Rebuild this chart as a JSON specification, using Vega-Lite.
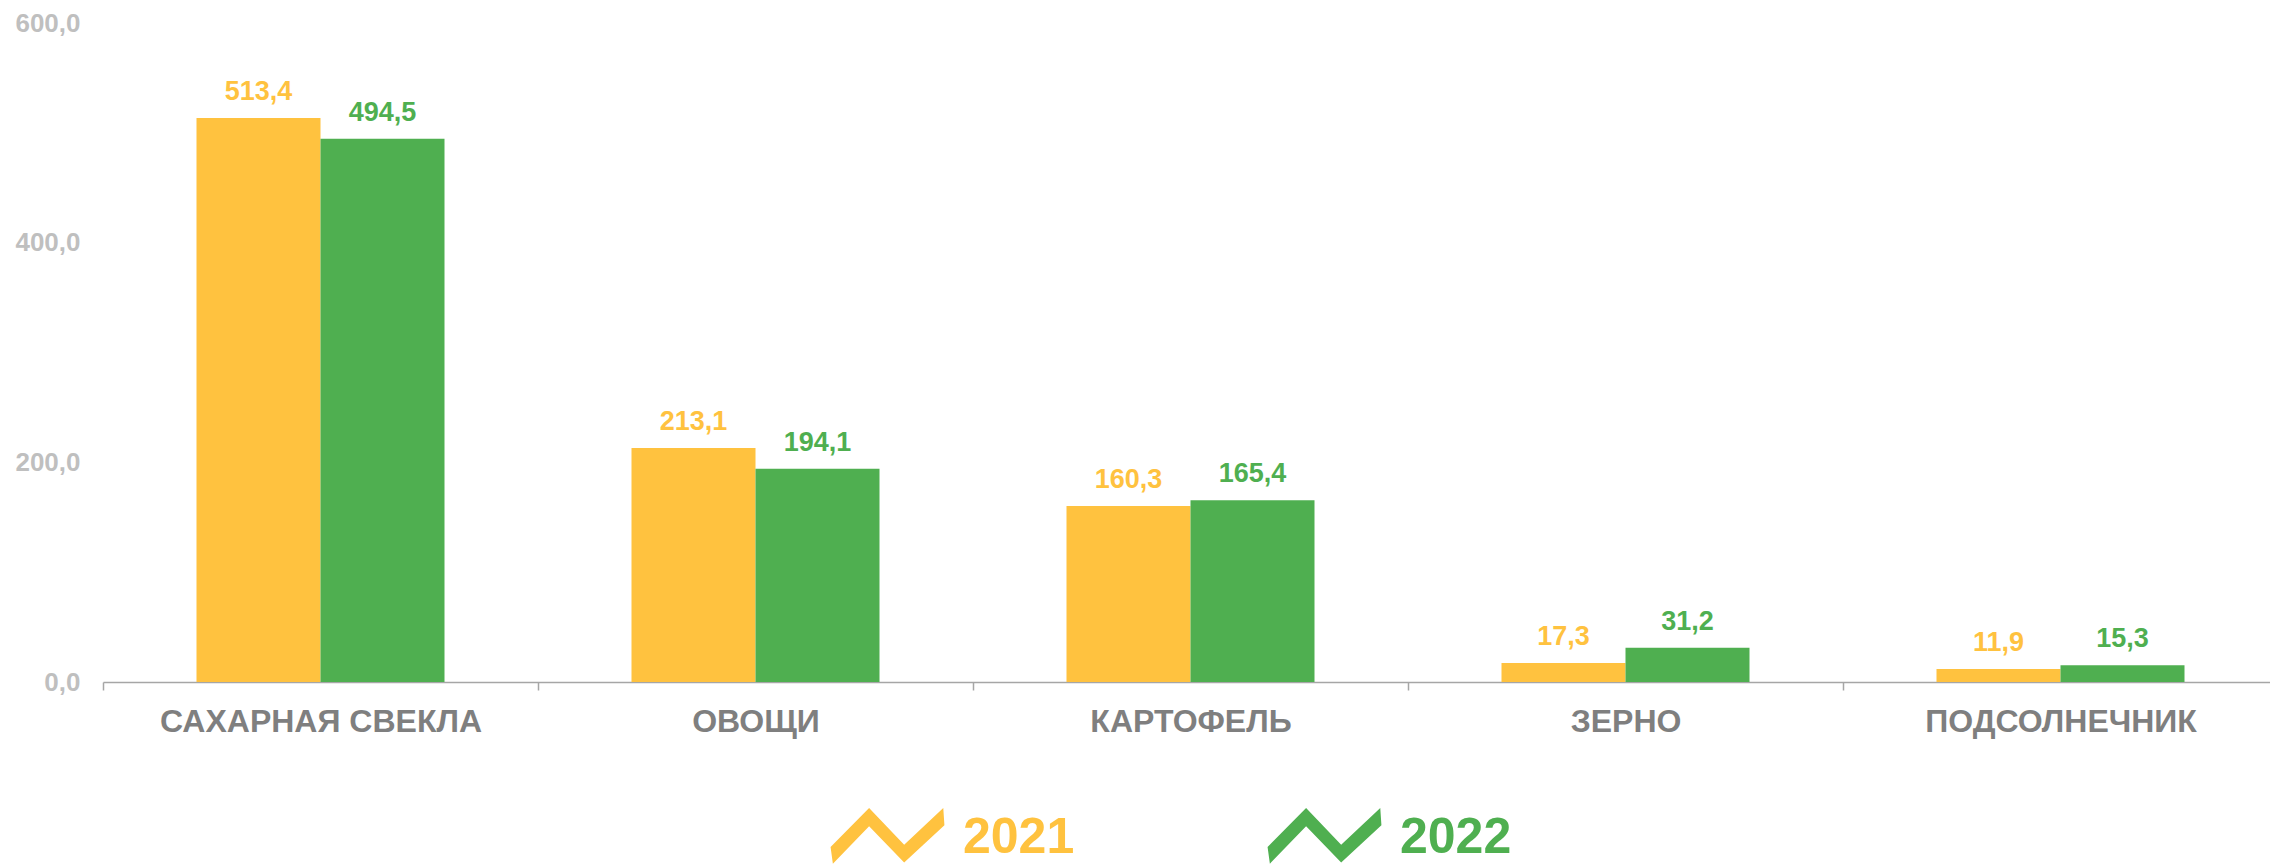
{
  "$schema": "https://vega.github.io/schema/vega-lite/v6.json",
  "width": 2175,
  "height": 659,
  "autosize": "none",
  "padding": {"left": 103, "top": 23, "right": 0, "bottom": 186},
  "background": "white",
  "config": {
    "view": {"stroke": null},
    "font": "Liberation Sans",
    "locale": {"number": {"decimal": ",", "thousands": " ", "grouping": [3], "currency": ["", ""]}}
  },
  "data": {
    "values": [
      {"crop": "САХАРНАЯ СВЕКЛА", "year": "2021", "value": 513.4},
      {"crop": "САХАРНАЯ СВЕКЛА", "year": "2022", "value": 494.5},
      {"crop": "ОВОЩИ", "year": "2021", "value": 213.1},
      {"crop": "ОВОЩИ", "year": "2022", "value": 194.1},
      {"crop": "КАРТОФЕЛЬ", "year": "2021", "value": 160.3},
      {"crop": "КАРТОФЕЛЬ", "year": "2022", "value": 165.4},
      {"crop": "ЗЕРНО", "year": "2021", "value": 17.3},
      {"crop": "ЗЕРНО", "year": "2022", "value": 31.2},
      {"crop": "ПОДСОЛНЕЧНИК", "year": "2021", "value": 11.9},
      {"crop": "ПОДСОЛНЕЧНИК", "year": "2022", "value": 15.3}
    ]
  },
  "encoding": {
    "x": {
      "field": "crop", "type": "nominal", "sort": null,
      "scale": {"paddingInner": 0, "paddingOuter": 0},
      "axis": {
        "title": null, "labelAngle": 0, "labelFont": "Liberation Sans", "labelFontSize": 32,
        "labelFontWeight": "bold", "labelColor": "#7f7f7f", "labelPadding": 16, "labelLimit": 1000,
        "domainColor": "#a6a6a6", "domainWidth": 1.5, "tickColor": "#a6a6a6", "tickSize": 8,
        "tickWidth": 1.5, "tickBand": "extent", "grid": false
      }
    },
    "xOffset": {"field": "year", "type": "nominal", "scale": {"paddingInner": 0, "paddingOuter": 0.754}},
    "y": {
      "field": "value", "type": "quantitative",
      "scale": {"domain": [0, 600], "nice": false},
      "axis": {
        "title": null, "values": [0, 200, 400, 600], "format": ".1f", "grid": false, "domain": false,
        "ticks": false, "labelFont": "Liberation Sans", "labelFontSize": 26, "labelFontWeight": "bold",
        "labelColor": "#bfbfbf", "labelPadding": 23
      }
    },
    "color": {
      "field": "year", "type": "nominal",
      "scale": {"domain": ["2021", "2022"], "range": ["#FFC23F", "#4FAF50"]},
      "legend": {
        "title": null, "orient": "none", "direction": "horizontal", "legendX": 727, "legendY": 757,
        "symbolType": "M -0.99 0.16 L -0.32 -0.52 L 0.29 0.12 L 0.97 -0.52 L 0.99 -0.22 L 0.29 0.43 L -0.32 -0.2 L -0.95 0.45 Z",
        "symbolSize": 13225, "symbolStrokeWidth": 0, "symbolOpacity": 1,
        "labelFont": "Liberation Sans", "labelFontSize": 50, "labelFontWeight": "bold", "labelOffset": 18,
        "columnPadding": 192, "labelLimit": 400,
        "encode": {"labels": {"update": {"fill": {"scale": "color", "field": "value"}}}}
      }
    }
  },
  "layer": [
    {"mark": {"type": "bar"}},
    {
      "mark": {"type": "text", "fontSize": 27, "fontWeight": "bold", "font": "Liberation Sans", "baseline": "alphabetic", "dy": -18},
      "encoding": {"text": {"field": "value", "type": "quantitative", "format": ".1f"}}
    }
  ]
}
